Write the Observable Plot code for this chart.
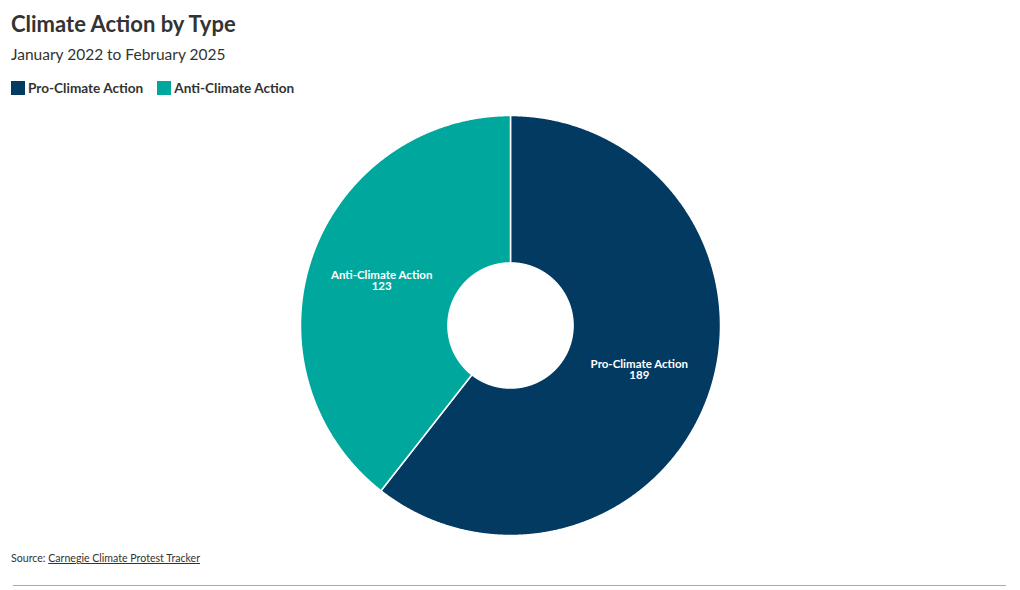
<!DOCTYPE html>
<html>
<head>
<meta charset="utf-8">
<script src="https://cdn.jsdelivr.net/npm/d3@7"></script>
<script src="https://cdn.jsdelivr.net/npm/@observablehq/plot@0.6"></script>
<style>
  html, body { margin: 0; padding: 0; background: #fff; }
  body { width: 1020px; height: 590px; position: relative; overflow: hidden; font-family: Lato, "Open Sans", sans-serif; color: #333; }
  #title { position: absolute; left: 11px; top: 10px; font-size: 22px; font-weight: 700; color: #333; white-space: nowrap; }
  #subtitle { position: absolute; left: 11px; top: 45px; font-size: 15.5px; color: #333; white-space: nowrap; }
  #legend { position: absolute; left: 11px; top: 80px; font-size: 13.6px; font-weight: 700; color: #333; display: flex; gap: 14px; white-space: nowrap; }
  .item { display: flex; align-items: center; }
  .sw { width: 14px; height: 14px; margin-right: 3px; display: inline-block; }
  #chart { position: absolute; left: 0; top: 105px; }
  #source { position: absolute; left: 11px; top: 552px; font-size: 10.6px; color: #333; white-space: nowrap; }
  #source a { color: #333; text-decoration: underline; }
  #rule { position: absolute; left: 13px; top: 585px; width: 993px; height: 0; border-top: 1px solid #aaa; }
</style>
</head>
<body>
<div id="title">Climate Action by Type</div>
<div id="subtitle">January 2022 to February 2025</div>
<div id="legend"></div>
<div id="chart"></div>
<div id="source">Source: <a>Carnegie Climate Protest Tracker</a></div>
<div id="rule"></div>
<script>
const categories = ["Pro-Climate Action", "Anti-Climate Action"];
const values = [189, 123];
const colors = ["#033a62", "#00a79d"];

const W = 1020, H = 440, R = 210, innerRatio = 0.298;
const cx = 510, cy = 220;

// legend
const legend = document.getElementById("legend");
categories.forEach((c, i) => {
  const it = document.createElement("div");
  it.className = "item";
  it.innerHTML = `<span class="sw" style="background:${colors[i]}"></span><span>${c}</span>`;
  legend.appendChild(it);
});

const table = categories.map((c, i) => ({category: c, value: values[i]}));
const arcs = d3.pie().sort(null).value(d => d.value)(table);

// polygon outlines for each slice (in radius units, angle clockwise from top)
const pts = [];
const step = Math.PI / 720;
arcs.forEach(a => {
  const cat = a.data.category;
  const n = Math.max(2, Math.ceil((a.endAngle - a.startAngle) / step));
  for (let k = 0; k <= n; k++) {
    const t = a.startAngle + (a.endAngle - a.startAngle) * k / n;
    pts.push({category: cat, x: Math.sin(t), y: Math.cos(t)});
  }
  for (let k = n; k >= 0; k--) {
    const t = a.startAngle + (a.endAngle - a.startAngle) * k / n;
    pts.push({category: cat, x: innerRatio * Math.sin(t), y: innerRatio * Math.cos(t)});
  }
});

const labels = arcs.map(a => {
  const m = (a.startAngle + a.endAngle) / 2;
  const r = (1 + innerRatio) / 2;
  return {category: a.data.category, value: a.data.value, x: r * Math.sin(m), y: r * Math.cos(m)};
});

const chart = Plot.plot({
  width: W,
  height: H,
  margin: 0,
  style: {fontFamily: "Lato, 'Open Sans', sans-serif", background: "transparent"},
  x: {domain: [-cx / R, (W - cx) / R], range: [0, W], axis: null},
  y: {domain: [-(H - cy) / R, cy / R], range: [H, 0], axis: null},
  color: {domain: categories, range: colors},
  marks: [
    Plot.line(pts, {x: "x", y: "y", z: "category", fill: "category", stroke: "white", strokeWidth: 1.5, curve: "linear-closed"}),
    Plot.text(labels, {x: "x", y: "y", text: d => `${d.category}\n${d.value}`, fill: "white", fontWeight: 700, fontSize: 11.5, lineHeight: 1.0, textAnchor: "middle"})
  ]
});
document.getElementById("chart").appendChild(chart);
</script>
</body>
</html>
